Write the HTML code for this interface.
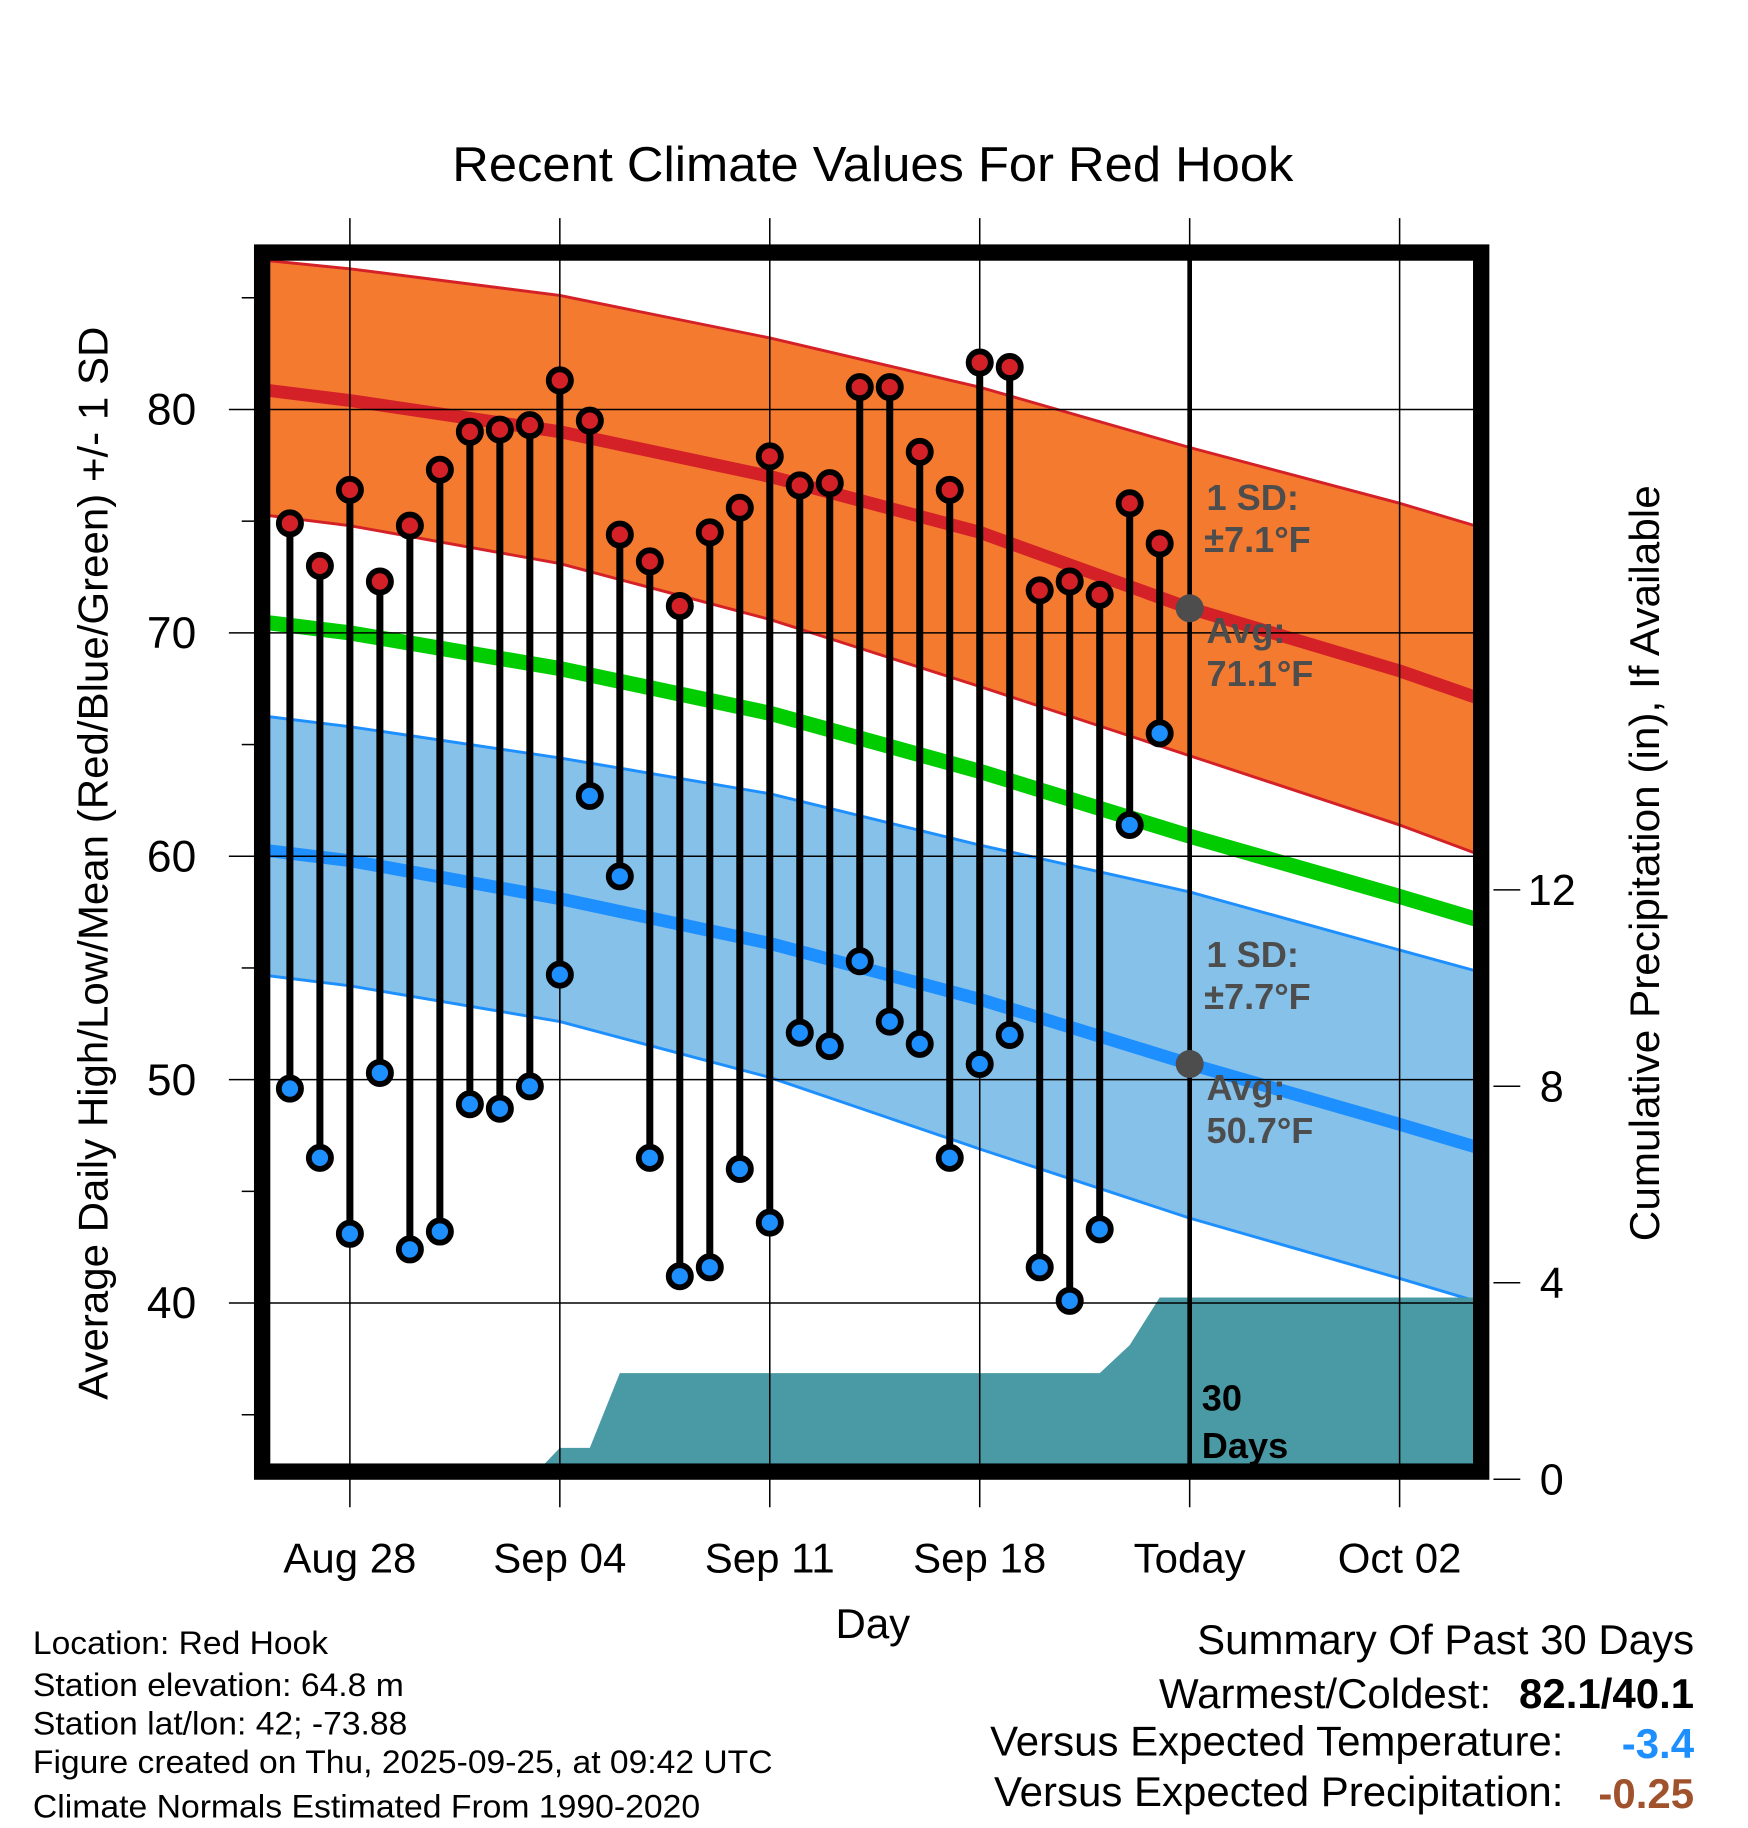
<!DOCTYPE html>
<html><head><meta charset="utf-8"><style>
html,body{margin:0;padding:0;background:#fff}
svg{display:block;font-family:"Liberation Sans",Arial,sans-serif}
</style></head><body>
<svg id="chart" width="1748" height="1828" viewBox="0 0 1498 1567" xmlns="http://www.w3.org/2000/svg">
<rect width="1498" height="1567" fill="#fff"/>
<defs><clipPath id="pc"><rect x="231" y="222" width="1036" height="1038"/></clipPath></defs>
<text x="748" y="155" font-size="42" text-anchor="middle" textLength="721" lengthAdjust="spacingAndGlyphs">Recent Climate Values For Red Hook</text>
<g id="plot" clip-path="url(#pc)"></g>
<g id="axes"></g>
<text x="748" y="1404" font-size="36" text-anchor="middle">Day</text>
<text transform="translate(92,740) rotate(-90)" font-size="36" text-anchor="middle" textLength="920" lengthAdjust="spacingAndGlyphs">Average Daily High/Low/Mean (Red/Blue/Green) +/- 1 SD</text>
<text transform="translate(1422,740) rotate(-90)" font-size="36" text-anchor="middle" textLength="648" lengthAdjust="spacingAndGlyphs">Cumulative Precipitation (in), If Available</text>
<g font-size="28">
<text x="28" y="1418" textLength="253" lengthAdjust="spacingAndGlyphs">Location: Red Hook</text>
<text x="28" y="1454" textLength="318" lengthAdjust="spacingAndGlyphs">Station elevation: 64.8 m</text>
<text x="28" y="1487" textLength="321" lengthAdjust="spacingAndGlyphs">Station lat/lon: 42; -73.88</text>
<text x="28" y="1520" textLength="634" lengthAdjust="spacingAndGlyphs">Figure created on Thu, 2025-09-25, at 09:42 UTC</text>
<text x="28" y="1558" textLength="572" lengthAdjust="spacingAndGlyphs">Climate Normals Estimated From 1990-2020</text>
</g>
<g font-size="36" text-anchor="end">
<text x="1452" y="1418">Summary Of Past 30 Days</text>
<text x="1278" y="1464">Warmest/Coldest:</text>
<text x="1452" y="1464" font-weight="bold">82.1/40.1</text>
<text x="1340" y="1505">Versus Expected Temperature:</text>
<text x="1452" y="1507" font-weight="bold" fill="#1e8fff">-3.4</text>
<text x="1340" y="1548">Versus Expected Precipitation:</text>
<text x="1452" y="1550" font-weight="bold" fill="#a0522d">-0.25</text>
</g>
</svg>
<script>
// day index 0 = Aug 26
const normDays=[-1,2,9,16,23,30,37,40];
const highUpper=[86.7,86.3,85.1,83.2,81.0,78.3,75.8,74.6];
const highAvg=[80.9,80.4,79.0,77.0,74.5,71.1,68.3,66.9];
const highLower=[75.3,74.8,73.1,70.6,67.6,64.5,61.4,59.9];
const meanAvg=[70.5,70.0,68.4,66.4,63.8,60.9,58.2,57.0];
const lowUpper=[66.3,65.8,64.4,62.8,60.5,58.4,55.8,54.7];
const lowAvg=[60.3,59.8,58.1,56.1,53.6,50.7,48.0,46.8];
const lowLower=[54.7,54.2,52.6,50.1,46.9,43.8,41.1,39.9];
const highs=[74.9,73.0,76.4,72.3,74.8,77.3,79.0,79.1,79.3,81.3,79.5,74.4,73.2,71.2,74.5,75.6,77.9,76.6,76.7,81.0,81.0,78.1,76.4,82.1,81.9,71.9,72.3,71.7,75.8,74.0];
const lows=[49.6,46.5,43.1,50.3,42.4,43.2,48.9,48.7,49.7,54.7,62.7,59.1,46.5,41.2,41.6,46.0,43.6,52.1,51.5,55.3,52.6,51.6,46.5,50.7,52.0,41.6,40.1,43.3,61.4,65.5];
const precip=[0,0,0,0,0,0,0,0,0,0.64,0.64,2.16,2.16,2.16,2.16,2.16,2.16,2.16,2.16,2.16,2.16,2.16,2.16,2.16,2.16,2.16,2.16,2.16,2.73,3.7];
const dateTicks=[2,9,16,23,30,37];
const dateLabels=["Aug 28","Sep 04","Sep 11","Sep 18","Today","Oct 02"];
const yTicks=[40,50,60,70,80];
const y2Ticks=[0,4,8,12];
const todayIdx=30;

const NS="http://www.w3.org/2000/svg";
const X=d=>248.3+25.71*d;
const Y=v=>351+(80-v)*19.15;
const Y2=p=>1268-p*42.1;
function mk(t,a,p){const e=document.createElementNS(NS,t);for(const k in a)e.setAttribute(k,a[k]);p.appendChild(e);return e;}
const plot=document.getElementById('plot'),axes=document.getElementById('axes');
const pts=arr=>normDays.map((d,i)=>X(d).toFixed(1)+','+Y(arr[i]).toFixed(1));
function band(up,lo,fill,stroke,name){
  const p=mk('polygon',{points:pts(up).concat(pts(lo).reverse()).join(' '),fill:fill},plot);
  
  
  const a=mk('polyline',{points:pts(up).join(' '),fill:'none',stroke:stroke,'stroke-width':2.5},plot);
  
  
  const b=mk('polyline',{points:pts(lo).join(' '),fill:'none',stroke:stroke,'stroke-width':2.5},plot);
  
  
}
band(highUpper,highLower,'#f47a30','#d42027','high-sd-band');
band(lowUpper,lowLower,'#85c1e9','#1e8fff','low-sd-band');
function line(arr,col,w,name){const l=mk('polyline',{points:pts(arr).join(' '),fill:'none',stroke:col,'stroke-width':w},plot);
  
  }
line(highAvg,'#d42027',11,'high-avg-line');
line(meanAvg,'#00cc00',13,'mean-avg-line');
line(lowAvg,'#1e8fff',11,'low-avg-line');
// precipitation
let pp=[X(0)+','+1262];
precip.forEach((v,i)=>pp.push(X(i).toFixed(1)+','+Y2(v).toFixed(1)));
pp.push('1270,'+Y2(precip[precip.length-1]).toFixed(1),'1270,1262');
const pr=mk('polygon',{points:pp.join(' '),fill:'#4a9aa5'},plot);


// grid
yTicks.forEach(v=>{const g=mk('line',{x1:231,x2:1267,y1:Y(v),y2:Y(v),stroke:'#000','stroke-width':1.3},axes);
  
  
  mk('line',{x1:196,x2:218,y1:Y(v),y2:Y(v),stroke:'#000','stroke-width':1.3},axes);
  const t=mk('text',{x:168,y:Y(v)+13,'font-size':38,'text-anchor':'end'},axes);t.textContent=v;
  
  });
[35,45,55,65,75,85].forEach(v=>mk('line',{x1:207,x2:218,y1:Y(v),y2:Y(v),stroke:'#000','stroke-width':1.3},axes));
dateTicks.forEach((d,i)=>{const g=mk('line',{x1:X(d),x2:X(d),y1:187,y2:1292,stroke:'#000','stroke-width':1.3},axes);
  
  
  const t=mk('text',{x:X(d),y:1348,'font-size':36,'text-anchor':'middle'},axes);t.textContent=dateLabels[i];
  
  });
y2Ticks.forEach(v=>{mk('line',{x1:1280,x2:1303,y1:Y2(v),y2:Y2(v),stroke:'#000','stroke-width':1.3},axes);
  const t=mk('text',{x:1330,y:Y2(v)+13,'font-size':37,'text-anchor':'middle'},axes);t.textContent=v;
  
  });
// today line
const tl=mk('line',{x1:X(todayIdx),x2:X(todayIdx),y1:222,y2:1262,stroke:'#000','stroke-width':4},axes);


// stems and markers
highs.forEach((h,i)=>{const s=mk('line',{x1:X(i),x2:X(i),y1:Y(h),y2:Y(lows[i]),stroke:'#000','stroke-width':6},axes);
  
  });
highs.forEach((h,i)=>{const c=mk('circle',{cx:X(i),cy:Y(h),r:9.5,fill:'#d42027',stroke:'#000','stroke-width':5},axes);
  
  
  const d=mk('circle',{cx:X(i),cy:Y(lows[i]),r:9.5,fill:'#1e8fff',stroke:'#000','stroke-width':5},axes);
  
  });
[highAvg[5],lowAvg[5]].forEach(v=>{const c=mk('circle',{cx:X(todayIdx),cy:Y(v),r:12,fill:'#4d4d4d'},axes);
  
  });
// annotations
function lab(x,y,s,col,name){const t=mk('text',{x:x,y:y,'font-size':31,'font-weight':'bold',fill:col},axes);t.textContent=s;
  
  }
lab(1034,437,'1 SD:','#4d4d4d','high-sd-label');lab(1032,473,'±7.1°F','#4d4d4d','high-sd-value');
lab(1034,551,'Avg:','#4d4d4d','high-avg-label');lab(1034,588,'71.1°F','#4d4d4d','high-avg-value');
lab(1034,829,'1 SD:','#4d4d4d','low-sd-label');lab(1032,865,'±7.7°F','#4d4d4d','low-sd-value');
lab(1034,943,'Avg:','#4d4d4d','low-avg-label');lab(1034,980,'50.7°F','#4d4d4d','low-avg-value');
lab(1030,1209,'30','#000','days-label');lab(1030,1250,'Days','#000','days-label-2');
// frame
const fr=mk('rect',{x:224.5,y:216.5,width:1045,height:1045,fill:'none',stroke:'#000','stroke-width':14},axes);


</script>
</body></html>
